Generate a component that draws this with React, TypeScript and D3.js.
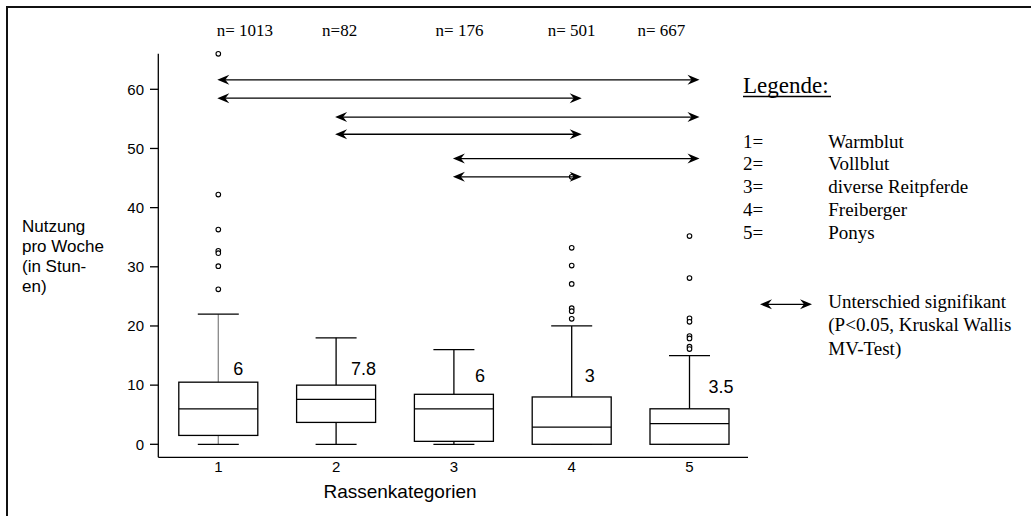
import React from 'react'
import * as d3 from 'd3'

// categories and counts
const categories = [1, 2, 3, 4, 5]
const nLabels = ['n= 1013', 'n=82', 'n= 176', 'n= 501', 'n= 667']

// box statistics (hours per week)
const q1 = [1.5, 3.7, 0.5, 0, 0]
const medians = [6, 7.6, 6, 2.9, 3.5]
const q3 = [10.5, 10, 8.45, 8, 6]
const whiskerLow = [0, 0, 0, 0, 0]
const whiskerHigh = [22, 18, 16, 20, 15]
const outliers = [
  [66, 42.2, 36.3, 32.7, 32.3, 30.1, 26.2],
  [],
  [],
  [45.2, 33.2, 30.2, 27.1, 23, 22.5, 21.2],
  [35.2, 28.1, 21.3, 20.7, 18.3, 17.9, 16.5, 16.1],
]
const medianLabels = ['6', '7.8', '6', '3', '3.5']
const medianLabelAt = [11.7, 11.7, 10.6, 10.6, 8.7]

// significant pairs (Kruskal Wallis) and the level each arrow is drawn at
const sigPairs = [[1, 5], [1, 4], [2, 5], [2, 4], [3, 5], [3, 4]]
const sigLevels = [61.6, 58.5, 55.3, 52.4, 48.3, 45.2]

const yTicks = [0, 10, 20, 30, 40, 50, 60]
const legendKeys = ['1=', '2=', '3=', '4=', '5=']
const legendNames = ['Warmblut', 'Vollblut', 'diverse Reitpferde', 'Freiberger', 'Ponys']
const sigNote = ['Unterschied signifikant', '(P<0.05, Kruskal Wallis', 'MV-Test)']
const yLabelLines = ['Nutzung', 'pro Woche', '(in Stun-', 'en)']

// layout
const W = 1031
const H = 516
const nLabelDx = [-1.6, -14, -18.3, -24, -52]
const medianLabelDx = [15, 15, 21, 13, 19]
const sans = 'Arial, "Liberation Sans", sans-serif'
const serif = '"Times New Roman", "Liberation Serif", serif'

// arrowhead pointing in direction dir (-1 left, +1 right), tip at (x, y)
function arrowHead(x: number, y: number, dir: number) {
  const L = 12, hw = 5, notch = 8
  return `M${x},${y} L${x - dir * L},${y - hw} L${x - dir * notch},${y} L${x - dir * L},${y + hw} Z`
}

export default function App() {
  const x = d3.scaleLinear().domain([0.5, 5.5]).range([159.4, 748.4])
  const y = d3.scaleLinear().domain([0, 60]).range([444.3, 89.3])
  const boxW = 79
  const capW = 41
  const axisBottom = y(-2.2)
  const axisTop = y(66)

  return (
    <svg width={W} height={H} style={{ position: 'absolute', left: 0, top: 0, background: '#fff' }}>
      {/* frame */}
      <rect x={7} y={7} width={W + 20} height={H + 20} fill="none" stroke="#111" strokeWidth={2} />

      {/* y axis */}
      <line x1={158.3} x2={158.3} y1={axisTop} y2={axisBottom} stroke="#000" strokeWidth={1.3} />
      {yTicks.map(t => (
        <g key={t}>
          <line x1={150} x2={158.3} y1={y(t)} y2={y(t)} stroke="#000" strokeWidth={1.3} />
          <text x={144} y={y(t) + 5.3} textAnchor="end" fontFamily={sans} fontSize={15}>{t}</text>
        </g>
      ))}
      {/* x axis */}
      <line x1={158.3} x2={748} y1={axisBottom} y2={axisBottom} stroke="#000" strokeWidth={1.3} />
      {categories.map(c => (
        <text key={c} x={x(c)} y={472} textAnchor="middle" fontFamily={sans} fontSize={15}>{c}</text>
      ))}
      <text x={400} y={498} textAnchor="middle" fontFamily={sans} fontSize={19}>Rassenkategorien</text>

      {/* y label */}
      {yLabelLines.map((l, i) => (
        <text key={l} x={22} y={232 + i * 20} fontFamily={sans} fontSize={17}>{l}</text>
      ))}

      {/* n labels */}
      {categories.map((c, i) => (
        <text key={c} x={x(c) + nLabelDx[i]} y={36} fontFamily={serif} fontSize={17}>{nLabels[i]}</text>
      ))}

      {/* boxes */}
      {categories.map((c, i) => {
        const cx = x(c)
        const wColor = i === 0 ? '#888' : '#000'
        return (
          <g key={c}>
            <line x1={cx} x2={cx} y1={y(q3[i])} y2={y(whiskerHigh[i])} stroke={wColor} strokeWidth={1.3} />
            <line x1={cx} x2={cx} y1={y(q1[i])} y2={y(whiskerLow[i])} stroke={wColor} strokeWidth={1.3} />
            <line x1={cx - capW / 2} x2={cx + capW / 2} y1={y(whiskerHigh[i])} y2={y(whiskerHigh[i])} stroke="#000" strokeWidth={1.3} />
            <line x1={cx - capW / 2} x2={cx + capW / 2} y1={y(whiskerLow[i])} y2={y(whiskerLow[i])} stroke="#000" strokeWidth={1.3} />
            <rect x={cx - boxW / 2} y={y(q3[i])} width={boxW} height={y(q1[i]) - y(q3[i])} fill="#fff" stroke="#000" strokeWidth={1.3} />
            <line x1={cx - boxW / 2} x2={cx + boxW / 2} y1={y(medians[i])} y2={y(medians[i])} stroke="#000" strokeWidth={1.3} />
            {outliers[i].map((o, j) => (
              <circle key={j} cx={cx} cy={y(o)} r={2.3} fill="#fff" stroke="#000" strokeWidth={1.1} />
            ))}
            <text x={cx + medianLabelDx[i]} y={y(medianLabelAt[i])} fontFamily={sans} fontSize={18}>{medianLabels[i]}</text>
          </g>
        )
      })}

      {/* significance arrows */}
      {sigPairs.map(([a, b], i) => {
        const yy = y(sigLevels[i])
        const x1 = x(a) - 1
        const x2 = x(b) + 10
        return (
          <g key={i}>
            <line x1={x1 + 6} x2={x2 - 6} y1={yy} y2={yy} stroke="#000" strokeWidth={1.3} />
            <path d={arrowHead(x1, yy, -1)} fill="#000" />
            <path d={arrowHead(x2, yy, 1)} fill="#000" />
          </g>
        )
      })}

      {/* legend */}
      <text x={743} y={93} fontFamily={serif} fontSize={23}>Legende:</text>
      <line x1={743} x2={831} y1={96.5} y2={96.5} stroke="#000" strokeWidth={1.3} />
      {legendKeys.map((k, i) => (
        <g key={k}>
          <text x={743} y={147.7 + i * 22.7} fontFamily={serif} fontSize={19}>{k}</text>
          <text x={828.3} y={147.7 + i * 22.7} fontFamily={serif} fontSize={19}>{legendNames[i]}</text>
        </g>
      ))}
      <line x1={766} x2={806} y1={304.3} y2={304.3} stroke="#000" strokeWidth={1.3} />
      <path d={arrowHead(760, 304.3, -1)} fill="#000" />
      <path d={arrowHead(812, 304.3, 1)} fill="#000" />
      {sigNote.map((s, i) => (
        <text key={s} x={828.3} y={308 + i * 23.3} fontFamily={serif} fontSize={19}>{s}</text>
      ))}
    </svg>
  )
}
